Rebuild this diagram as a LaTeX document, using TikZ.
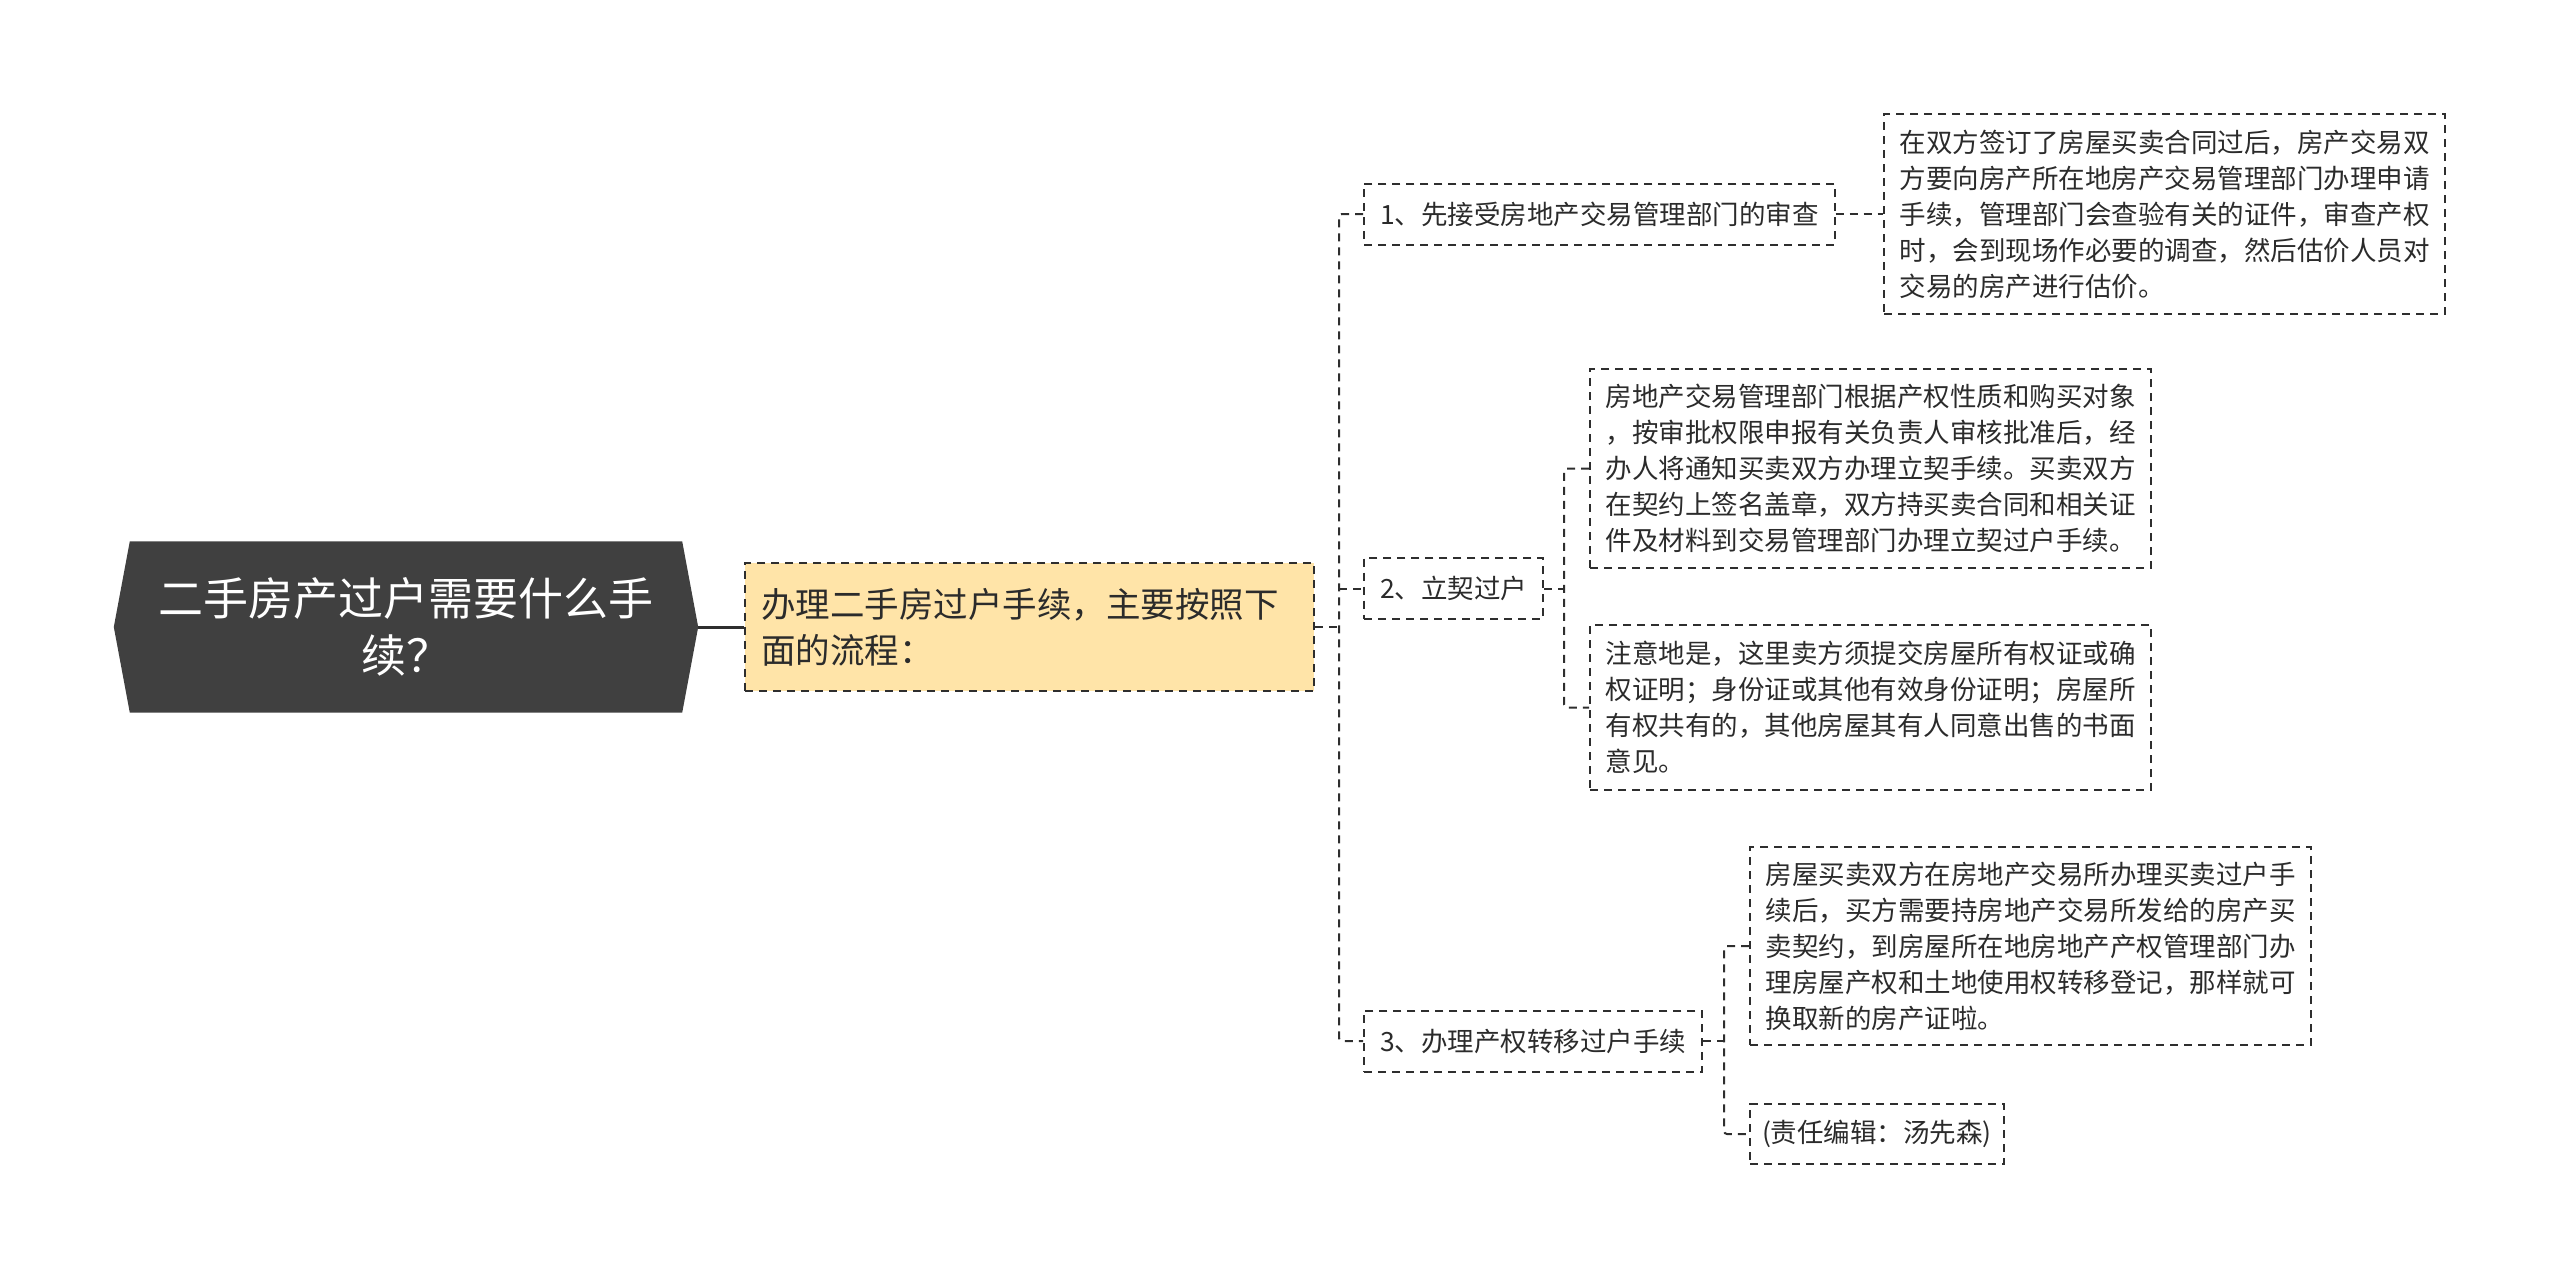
\documentclass[tikz,border=0pt]{standalone}
\usepackage{fontspec}
\setmainfont{Noto Sans CJK SC}
\usetikzlibrary{backgrounds}
\definecolor{rootfill}{HTML}{404040}
\definecolor{linecol}{HTML}{2E2E2E}
\definecolor{txt}{HTML}{2B2B2B}
\definecolor{yel}{HTML}{FFE4A8}
\begin{document}
\begin{tikzpicture}[x=1pt,y=-1pt,
  rootnode/.style={inner sep=0pt, minimum width=552pt, minimum height=171pt, text=white, align=center, font=\fontsize{45}{57}\selectfont},
  box/.style={draw=linecol, line width=2pt, dash pattern=on 8pt off 6pt, text=txt, align=left, inner sep=0pt, font=\fontsize{26.5}{36}\selectfont},
  midbox/.style={box, fill=yel, font=\fontsize{34.5}{46}\selectfont, text width=537pt, minimum width=569pt, minimum height=128pt},
  subbox/.style={box, anchor=west, inner xsep=16pt, minimum height=61pt},
  leafbox/.style={box, anchor=west, text width=530pt, minimum width=561pt},
  conn/.style={draw=linecol, line width=2pt, dash pattern=on 8pt off 6pt},
  bconn/.style={conn, rounded corners=3pt},
  rootconn/.style={draw=linecol, line width=3pt}
]
\useasboundingbox (0,0) rectangle (2560,1280);

\node[rootnode] (root) at (406,627) {二手房产过户需要什么手\\续？};
\begin{scope}[on background layer]
\fill[rootfill] (root.north west) -- (root.north east) -- ([xshift=16pt]root.east) -- (root.south east) -- (root.south west) -- ([xshift=-16pt]root.west) -- cycle;
\end{scope}
\coordinate (roottip) at ([xshift=16pt]root.east);

\node[midbox] (L1) at (1029.5,627) {办理二手房过户手续，主要按照下\\面的流程：};

\node[subbox] (A) at (1363,214) {1、先接受房地产交易管理部门的审查};
\node[subbox] (B) at (1363,588.5) {2、立契过户};
\node[subbox] (C) at (1363,1041) {3、办理产权转移过户手续};

\node[leafbox, minimum height=200pt] (A1) at (1883,214) {在双方签订了房屋买卖合同过后，房产交易双\\方要向房产所在地房产交易管理部门办理申请\\手续，管理部门会查验有关的证件，审查产权\\时，会到现场作必要的调查，然后估价人员对\\交易的房产进行估价。};
\node[leafbox, minimum height=199pt] (B1) at (1589,468.5) {房地产交易管理部门根据产权性质和购买对象\\，按审批权限申报有关负责人审核批准后，经\\办人将通知买卖双方办理立契手续。买卖双方\\在契约上签名盖章，双方持买卖合同和相关证\\件及材料到交易管理部门办理立契过户手续。};
\node[leafbox, minimum height=165pt] (B2) at (1589,707.5) {注意地是，这里卖方须提交房屋所有权证或确\\权证明；身份证或其他有效身份证明；房屋所\\有权共有的，其他房屋其有人同意出售的书面\\意见。};
\node[leafbox, minimum height=198pt] (C1) at (1749,946) {房屋买卖双方在房地产交易所办理买卖过户手\\续后，买方需要持房地产交易所发给的房产买\\卖契约，到房屋所在地房地产产权管理部门办\\理房屋产权和土地使用权转移登记，那样就可\\换取新的房产证啦。};
\node[subbox, minimum height=60pt, inner xsep=12pt] (C2) at (1749,1134) {(责任编辑：汤先森)};

% connectors
\draw[rootconn] (roottip) -- (L1.west);

\coordinate (s1) at (1339,627);
\draw[conn] (L1.east) -- (s1);
\draw[bconn] (A.west) -| (s1) |- (C.west);
\draw[conn] (s1 |- B.west) -- (B.west);

\draw[conn] (A.east) -- (A1.west);

\coordinate (s2) at (1564,588.5);
\draw[conn] (B.east) -- (s2);
\draw[bconn] (B1.west) -| (s2) |- (B2.west);

\coordinate (s3) at (1724,1041);
\draw[conn] (C.east) -- (s3);
\draw[bconn] (C1.west) -| (s3) |- (C2.west);
\end{tikzpicture}
\end{document}
